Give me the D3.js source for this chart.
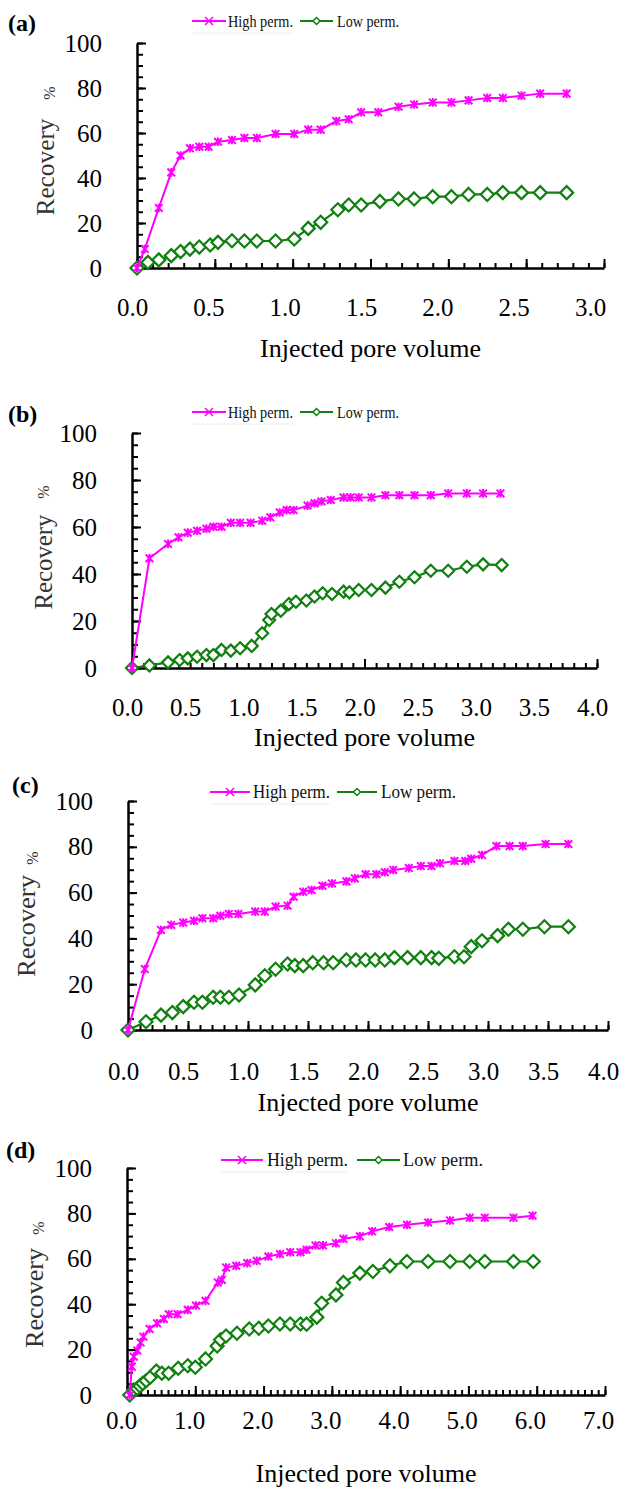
<!DOCTYPE html>
<html>
<head>
<meta charset="utf-8">
<script src="https://cdn.jsdelivr.net/npm/d3@7"></script>
<style>
body { margin: 0; background: #fff; }
svg { display: block; }
svg text { font-family: "Liberation Serif", "Times New Roman", Times, "DejaVu Serif", serif !important; }
</style>
</head>
<body>
<svg id="chart" width="634" height="1489"></svg>
<script>
"use strict";

// ---- data: [injected PV, recovery %] ----
var highA = [[0,0],[0.05,8.4],[0.14,26.7],[0.22,42.5],[0.28,50],[0.34,53.2],[0.40,53.9],[0.46,53.9],
  [0.52,56.1],[0.61,56.9],[0.69,57.8],[0.77,57.8],[0.89,59.6],[1.01,59.6],[1.10,61.5],[1.18,61.5],
  [1.28,65.3],[1.36,66.1],[1.44,69.2],[1.55,69.2],[1.68,71.7],[1.78,72.7],[1.90,73.6],[2.02,73.6],
  [2.13,74.5],[2.25,75.6],[2.35,75.6],[2.47,76.6],[2.59,77.5],[2.76,77.5]];
var lowA = [[0,0],[0.07,2.5],[0.14,3.6],[0.22,5.5],[0.28,7.3],[0.34,8.4],[0.40,9.3],[0.47,10.2],
  [0.52,11.4],[0.61,12.1],[0.69,12],[0.77,12],[0.89,12],[1.01,12.9],[1.10,17.6],[1.18,20.3],
  [1.29,25.9],[1.36,28],[1.44,28],[1.56,29.6],[1.68,30.7],[1.78,30.7],[1.90,31.7],[2.02,31.7],
  [2.13,32.7],[2.25,32.7],[2.35,33.5],[2.47,33.5],[2.59,33.5],[2.76,33.5]];

var highB = [[0,0],[0.15,46.7],[0.31,52.8],[0.40,55.6],[0.48,57.6],[0.56,58.4],[0.64,59.3],[0.70,60.1],
  [0.77,60.1],[0.85,61.8],[0.93,61.8],[1.02,61.8],[1.12,62.7],[1.19,64.1],[1.27,66.2],[1.33,67.2],
  [1.39,67.2],[1.51,69.1],[1.57,70.1],[1.63,70.9],[1.71,71.5],[1.82,72.6],[1.88,72.6],[1.95,72.6],
  [2.06,72.6],[2.18,73.5],[2.30,73.5],[2.43,73.5],[2.57,73.5],[2.72,74.3],[2.88,74.3],[3.02,74.3],[3.17,74.3]];
var lowB = [[0,0],[0.15,1.1],[0.31,2.4],[0.41,3.4],[0.48,4.1],[0.56,4.8],[0.64,5.5],[0.70,5.5],
  [0.77,7.7],[0.85,7.4],[0.93,8.4],[1.03,9.4],[1.12,14.8],[1.18,20.4],[1.20,23],[1.28,24.4],
  [1.35,27.2],[1.41,28.2],[1.50,28.7],[1.57,30.4],[1.64,31.8],[1.72,31.5],[1.82,32.5],[1.87,32.2],
  [1.95,33.2],[2.06,33.2],[2.18,34.2],[2.30,36.7],[2.43,38.6],[2.57,41.4],[2.72,41.4],[2.88,43.1],
  [3.02,44.1],[3.18,43.8]];

var highC = [[0,0],[0.14,26.6],[0.275,43.7],[0.36,45.9],[0.46,46.9],[0.55,47.7],[0.62,48.8],[0.71,48.8],
  [0.77,49.9],[0.84,50.7],[0.92,50.7],[1.06,51.7],[1.14,51.7],[1.23,53.9],[1.33,54.3],[1.38,58.2],
  [1.46,60.4],[1.53,61.1],[1.62,63.0],[1.70,64.0],[1.82,64.9],[1.89,66.2],[1.98,68.0],[2.07,68.0],
  [2.14,68.9],[2.21,69.9],[2.34,70.7],[2.44,71.6],[2.53,71.6],[2.60,72.8],[2.72,73.8],[2.81,73.8],
  [2.86,74.8],[2.95,76.4],[3.07,80.3],[3.18,80.3],[3.29,80.3],[3.48,81.2],[3.67,81.2]];
var lowC = [[0,0],[0.15,3.6],[0.275,6.5],[0.37,7.6],[0.46,10.2],[0.55,12.1],[0.62,12.1],[0.71,14.3],
  [0.77,14.3],[0.84,14.3],[0.925,15.3],[1.06,19.7],[1.14,23.7],[1.23,26.5],[1.33,28.8],[1.39,28.1],
  [1.46,28.1],[1.54,29.4],[1.63,29.4],[1.71,29.4],[1.82,30.6],[1.90,30.6],[1.98,30.6],[2.06,30.6],
  [2.14,30.6],[2.22,31.6],[2.33,31.6],[2.44,31.6],[2.53,31.6],[2.59,31.3],[2.72,32.0],[2.80,32.0],
  [2.86,36.4],[2.95,39.0],[3.08,41.2],[3.17,44.0],[3.29,44.0],[3.47,45.1],[3.67,45.1]];

var highD = [[0.04,0],[0.07,12.5],[0.10,16.9],[0.15,19.6],[0.20,23.1],[0.24,25.7],[0.33,29.1],[0.44,31.6],
  [0.54,33.5],[0.61,35.6],[0.74,35.6],[0.89,37.5],[1.01,39.4],[1.15,41.5],[1.33,49.6],[1.39,50.7],
  [1.45,56.2],[1.60,56.9],[1.76,58.1],[1.90,59.1],[2.07,61.0],[2.24,62.1],[2.39,62.9],[2.54,62.9],
  [2.63,64.0],[2.76,65.9],[2.87,65.9],[3.06,66.9],[3.17,68.8],[3.41,69.9],[3.59,72.1],[3.84,74.0],
  [4.10,75.0],[4.41,76.0],[4.73,76.9],[5.02,78.1],[5.24,78.1],[5.66,78.1],[5.94,79.0]];
var lowD = [[0.04,0],[0.10,2.2],[0.15,2.9],[0.19,4.0],[0.23,5.1],[0.28,6.3],[0.34,7.8],[0.43,10.6],
  [0.51,9.6],[0.61,9.6],[0.75,11.8],[0.89,12.9],[1.00,12.2],[1.15,15.9],[1.32,21.6],[1.37,24.3],
  [1.45,26.0],[1.61,27.2],[1.79,29.1],[1.93,29.4],[2.07,30.4],[2.24,31.3],[2.39,31.3],[2.54,31.3],
  [2.63,31.2],[2.78,34.3],[2.85,40.4],[3.06,44.1],[3.17,49.6],[3.41,53.7],[3.60,54.4],[3.85,56.9],
  [4.10,58.8],[4.41,58.8],[4.73,58.8],[5.02,58.8],[5.24,58.8],[5.66,58.8],[5.95,58.8]];

var yTickLabels = [0, 20, 40, 60, 80, 100];
var seriesNames = ["High perm.", "Low perm."];
var panelTags = ["(a)", "(b)", "(c)", "(d)"];
var xTitle = "Injected pore volume";
var yTitle = "Recovery";

// ---- layout of each panel (pixels) ----
var layout = [
  { high: highA, low: lowA, xMax: 3, labStep: 0.5, majStep: 0.5, labDx: [-5, -9],
    x0: 137, x1: 604, y0: 268, y1: 43, tickLabY: 308, titleY: 348,
    tag: [8, 31], rec: [45, 167, 97], pct: [49, 93],
    leg: { y: 21, fs: 16, hi: [192, 226, 228, 65], lo: [300, 333, 337, 62] }, dia: 6.5 },
  { high: highB, low: lowB, xMax: 4, labStep: 0.5, majStep: 2, labDx: [-5, 0],
    x0: 132, x1: 597, y0: 668, y1: 433, tickLabY: 708, titleY: 737,
    tag: [8, 422], rec: [43, 562, 95], pct: [43, 492],
    leg: { y: 412, fs: 16, hi: [192, 226, 228, 65], lo: [300, 333, 337, 62] }, dia: 6 },
  { high: highC, low: lowC, xMax: 4, labStep: 0.5, majStep: 0.5, labDx: [-5, 0],
    x0: 128, x1: 608, y0: 1030, y1: 801, tickLabY: 1072, titleY: 1102,
    tag: [12, 793], rec: [26, 926, 102], pct: [32, 858],
    leg: { y: 792, fs: 18, hi: [210, 250, 253, 77], lo: [337, 377, 381, 75] }, dia: 6.5 },
  { high: highD, low: lowD, xMax: 7, labStep: 1, majStep: 1, labDx: [-6, -1],
    x0: 127, x1: 605, y0: 1395, y1: 1168, tickLabY: 1421, titleY: 1473,
    tag: [6, 1158], rec: [34, 1298, 100], pct: [38, 1228],
    leg: { y: 1160, fs: 18, hi: [221, 263, 267, 81], lo: [357, 400, 403, 80] }, dia: 6.5 }
];

var PINK = "#ff00ff", GREEN = "#108010";
var svg = d3.select("#chart");

function starPath(s) {
  return "M" + (-s) + "," + (-s) + "L" + s + "," + s + "M" + (-s) + "," + s + "L" + s + "," + (-s) +
    "M0," + (-s - 0.5) + "L0," + (s + 0.5);
}
function diamondPath(s) {
  return "M0," + (-s) + "L" + s + ",0L0," + s + "L" + (-s) + ",0Z";
}
function steps(max, step) {
  var n = Math.round(max / step), out = [];
  for (var i = 0; i <= n; i++) out.push(+(i * step).toFixed(2));
  return out;
}

layout.forEach(function (p, i) {
  var g = svg.append("g");
  var x = d3.scaleLinear().domain([0, p.xMax]).range([p.x0, p.x1]);
  var y = d3.scaleLinear().domain([0, 100]).range([p.y0, p.y1]);

  // minor x ticks
  g.append("g").attr("transform", "translate(0," + p.y0 + ")")
    .call(d3.axisBottom(x).tickValues(steps(p.xMax, 0.1)).tickSize(-5).tickSizeOuter(0).tickFormat(""))
    .call(function (a) { a.select(".domain").remove(); a.selectAll("line").attr("stroke", "#000").attr("stroke-width", 2); });
  // major x ticks
  g.append("g").attr("transform", "translate(0," + p.y0 + ")")
    .call(d3.axisBottom(x).tickValues(steps(p.xMax, p.majStep)).tickSize(-9).tickSizeOuter(0).tickFormat(""))
    .call(function (a) { a.select(".domain").remove(); a.selectAll("line").attr("stroke", "#000").attr("stroke-width", 2); });
  // x axis line + labels
  var xa = g.append("g").attr("transform", "translate(0," + p.y0 + ")")
    .call(d3.axisBottom(x).tickValues(steps(p.xMax, p.labStep)).tickSize(0).tickSizeOuter(0)
      .tickPadding(p.tickLabY - p.y0 - 9.5).tickFormat(d3.format(".1f")));
  xa.attr("font-family", null);
  xa.select(".domain").attr("stroke", "#000").attr("stroke-width", 2.5);
  xa.selectAll("text").attr("font-size", 25).attr("fill", "#000")
    .attr("dx", function (d) { return p.labDx[0] + p.labDx[1] * d / p.xMax; });

  // y ticks
  g.append("g").attr("transform", "translate(" + p.x0 + ",0)")
    .call(d3.axisLeft(y).tickValues(d3.range(0, 101, 5)).tickSize(-6).tickSizeOuter(0).tickFormat(""))
    .call(function (a) { a.select(".domain").remove(); a.selectAll("line").attr("stroke", "#000").attr("stroke-width", 2); });
  var ya = g.append("g").attr("transform", "translate(" + p.x0 + ",0)")
    .call(d3.axisLeft(y).tickValues(yTickLabels).tickSize(-9).tickSizeOuter(0).tickPadding(35));
  ya.attr("font-family", null);
  ya.select(".domain").attr("stroke", "#000").attr("stroke-width", 2.5);
  ya.selectAll("line").attr("stroke", "#000").attr("stroke-width", 2);
  ya.selectAll("text").attr("font-size", 25).attr("fill", "#000");

  // titles
  g.append("text").attr("x", (p.x0 + p.x1) / 2).attr("y", p.titleY).attr("dy", "0.35em")
    .attr("text-anchor", "middle").attr("font-size", 26).text(xTitle);
  g.append("text").attr("transform", "translate(" + p.rec[0] + "," + p.rec[1] + ") rotate(-90)")
    .attr("text-anchor", "middle").attr("dy", "0.35em").attr("font-size", 25).attr("fill", "#333")
    .attr("textLength", p.rec[2]).attr("lengthAdjust", "spacingAndGlyphs").text(yTitle);
  g.append("text").attr("transform", "translate(" + p.pct[0] + "," + p.pct[1] + ") rotate(-90)")
    .attr("text-anchor", "middle").attr("dy", "0.35em").attr("font-size", 16).attr("fill", "#333").text("%");
  g.append("text").attr("x", p.tag[0]).attr("y", p.tag[1]).attr("font-size", 24)
    .attr("font-weight", "bold").text(panelTags[i]);

  // series
  var line = d3.line().x(function (d) { return x(d[0]); }).y(function (d) { return y(d[1]); });
  g.append("path").datum(p.low).attr("d", line).attr("fill", "none").attr("stroke", GREEN).attr("stroke-width", 2.2);
  g.selectAll(".dia").data(p.low).enter().append("path")
    .attr("transform", function (d) { return "translate(" + x(d[0]) + "," + y(d[1]) + ")"; })
    .attr("d", diamondPath(p.dia)).attr("fill", "#fff").attr("stroke", GREEN).attr("stroke-width", 2.2);
  g.append("path").datum(p.high).attr("d", line).attr("fill", "none").attr("stroke", PINK).attr("stroke-width", 2);
  g.selectAll(".star").data(p.high).enter().append("path")
    .attr("transform", function (d) { return "translate(" + x(d[0]) + "," + y(d[1]) + ")"; })
    .attr("d", starPath(3.8)).attr("fill", "none").attr("stroke", PINK).attr("stroke-width", 2);

  // legend
  var L = p.leg;
  g.append("line").attr("x1", L.hi[0]).attr("x2", L.hi[2] + L.hi[3]).attr("y1", L.y + 12).attr("y2", L.y + 12)
    .attr("stroke", "#eee").attr("stroke-width", 1);
  [[L.hi, PINK, 0], [L.lo, GREEN, 1]].forEach(function (e) {
    var v = e[0];
    g.append("line").attr("x1", v[0]).attr("x2", v[1]).attr("y1", L.y).attr("y2", L.y)
      .attr("stroke", e[1]).attr("stroke-width", 2);
    var cx = (v[0] + v[1]) / 2;
    if (e[2] === 0) {
      g.append("path").attr("transform", "translate(" + cx + "," + L.y + ")")
        .attr("d", "M-4,-4L4,4M-4,4L4,-4").attr("stroke", PINK).attr("stroke-width", 1.5);
    } else {
      g.append("path").attr("transform", "translate(" + cx + "," + L.y + ")")
        .attr("d", diamondPath(3.5)).attr("fill", "#fff").attr("stroke", GREEN).attr("stroke-width", 1.5);
    }
    g.append("text").attr("x", v[2]).attr("y", L.y + 6).attr("font-size", L.fs).attr("fill", "#111")
      .attr("textLength", v[3]).attr("lengthAdjust", "spacingAndGlyphs").text(seriesNames[e[2]]);
  });
});
</script>
</body>
</html>
